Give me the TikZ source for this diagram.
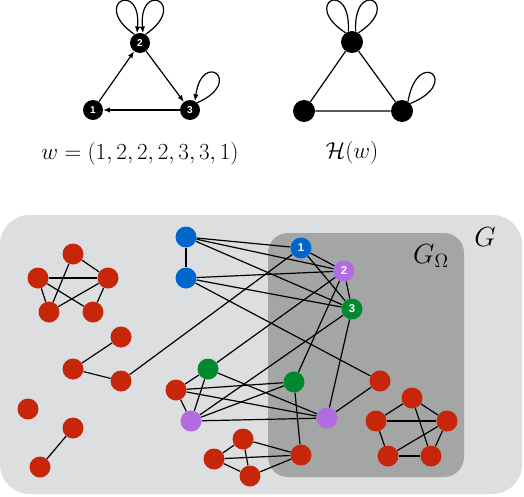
\documentclass[tikz,border=0pt]{standalone}
\usepackage{fontspec}
\newfontfamily\numfont{Liberation Sans}
\usetikzlibrary{arrows.meta}
\definecolor{nred}{HTML}{C8260A}
\definecolor{nblue}{HTML}{0066CC}
\definecolor{ngreen}{HTML}{00892F}
\definecolor{npurple}{HTML}{B26BE0}
\definecolor{gout}{HTML}{DDDEE0}
\definecolor{gin}{HTML}{A4A6A5}
\pgfdeclarelayer{bg}
\pgfdeclarelayer{edges}
\pgfsetlayers{bg,edges,main}
\begin{document}
\begin{tikzpicture}[x=0.75pt,y=0.75pt,
  vtx/.style={circle,inner sep=0pt,minimum size=15.75pt,text=white,font=\numfont\bfseries\fontsize{8.5}{9}\selectfont},
  rv/.style={vtx,fill=nred},
  bv/.style={vtx,fill=nblue},
  gv/.style={vtx,fill=ngreen},
  pv/.style={vtx,fill=npurple},
  tv/.style={circle,inner sep=0pt,minimum size=15pt,fill=black,text=white,font=\numfont\bfseries\fontsize{7.5}{8}\selectfont},
  hv/.style={circle,inner sep=0pt,minimum size=16.5pt,fill=black},
  ed/.style={line width=0.9pt,black},
  arr/.style={line width=0.9pt,-{Latex[length=5pt,width=4pt]}},
  lbl/.style={inner sep=0pt}]
\useasboundingbox (0,0) rectangle (524,-496);

% ---------- top left directed graph
\node[tv] (t1) at (93,-110) {1};
\node[tv] (t2) at (140,-43) {2};
\node[tv] (t3) at (190,-110) {3};
\draw[arr] (t1) -- (t2);
\draw[arr] (t2) -- (t3);
\draw[arr] (t3) -- (t1);
\draw[arr] (t2.123) .. controls +(145:54) and +(85:54) .. (t2.107);
\draw[arr] (t2.57) .. controls +(35:54) and +(95:54) .. (t2.73);
\draw[arr] (t3.45) .. controls +(24:52) and +(82:52) .. (t3.61);
\node[lbl] (wl) at (140,-154) {\fontsize{16.3}{19}\selectfont $w=(1,2,2,2,3,3,1)$};

% ---------- top right undirected graph
\node[hv] (h1) at (304,-111) {};
\node[hv] (h2) at (352,-42) {};
\node[hv] (h3) at (402,-111) {};
\draw[ed] (h1) -- (h2) -- (h3) -- (h1);
\draw[ed] (h2.125) .. controls +(147:54) and +(87:54) .. (h2.109);
\draw[ed] (h2.55) .. controls +(33:54) and +(93:54) .. (h2.71);
\draw[ed] (h3.42) .. controls +(22:56) and +(80:56) .. (h3.58);
\node[lbl] (hl) at (352,-153) {\fontsize{18.3}{21}\selectfont $\mathcal{H}(w)$};

% ---------- backgrounds
\begin{pgfonlayer}{bg}
\fill[gout,rounded corners=22pt] (0,-215) rectangle (522,-494);
\fill[gin,rounded corners=15pt] (268,-233) rectangle (464,-477);
\end{pgfonlayer}
\node[lbl] (Gl) at (485,-237) {\fontsize{22}{26}\selectfont $G$};
\node[lbl] (GOl) at (431,-256) {\fontsize{22}{26}\selectfont $G_\Omega$};

% ---------- bottom nodes
\node[rv] (p1) at (73,-254) {};
\node[rv] (p2) at (38,-278) {};
\node[rv] (p3) at (108,-278) {};
\node[rv] (p4) at (49,-312) {};
\node[rv] (p5) at (93,-312) {};
\node[rv] (c1) at (121,-337) {};
\node[rv] (c2) at (73,-369) {};
\node[rv] (c3) at (121,-381) {};
\node[rv] (i1) at (28,-409) {};
\node[rv] (i2) at (73,-428) {};
\node[rv] (i3) at (40,-467) {};
\node[bv] (b1) at (186,-237) {};
\node[bv] (b2) at (186,-278) {};
\node[bv] (n1) at (301,-248) {1};
\node[pv] (n2) at (344,-271) {2};
\node[gv] (n3) at (352,-309) {3};
\node[gv] (g1) at (208,-369) {};
\node[rv] (r1) at (176,-390) {};
\node[pv] (pu1) at (191,-421) {};
\node[gv] (g2) at (294,-382) {};
\node[pv] (pu2) at (327,-418) {};
\node[rv] (r2) at (380,-381) {};
\node[rv] (q1) at (243,-439) {};
\node[rv] (q2) at (214,-459) {};
\node[rv] (q3) at (250,-476) {};
\node[rv] (q4) at (301,-455) {};
\node[rv] (s1) at (412,-398) {};
\node[rv] (s2) at (376,-421) {};
\node[rv] (s3) at (447,-421) {};
\node[rv] (s4) at (388,-456) {};
\node[rv] (s5) at (431,-456) {};

\begin{pgfonlayer}{edges}
\foreach \a/\b in {p1/p3,p1/p4,p2/p3,p2/p4,p2/p5,p3/p4,p3/p5,
  c1/c2,c2/c3,c3/n1,i2/i3,
  b1/b2,b1/n1,b1/n2,b1/n3,b2/n2,b2/n3,b2/r2,
  n1/n2,n1/n3,n2/n3,n2/g1,n2/g2,n3/pu1,n3/pu2,
  r1/g1,r1/pu1,g1/pu1,r1/g2,r1/pu2,g1/pu2,pu1/g2,pu1/pu2,g2/q4,pu2/r2,
  q1/q2,q1/q3,q2/q3,q1/q4,q2/q4,q3/q4,
  s1/s2,s1/s3,s2/s3,s2/s4,s4/s5,s3/s5,s1/s5,s3/s4}
  \draw[ed] (\a) -- (\b);
\end{pgfonlayer}
\end{tikzpicture}
\end{document}
